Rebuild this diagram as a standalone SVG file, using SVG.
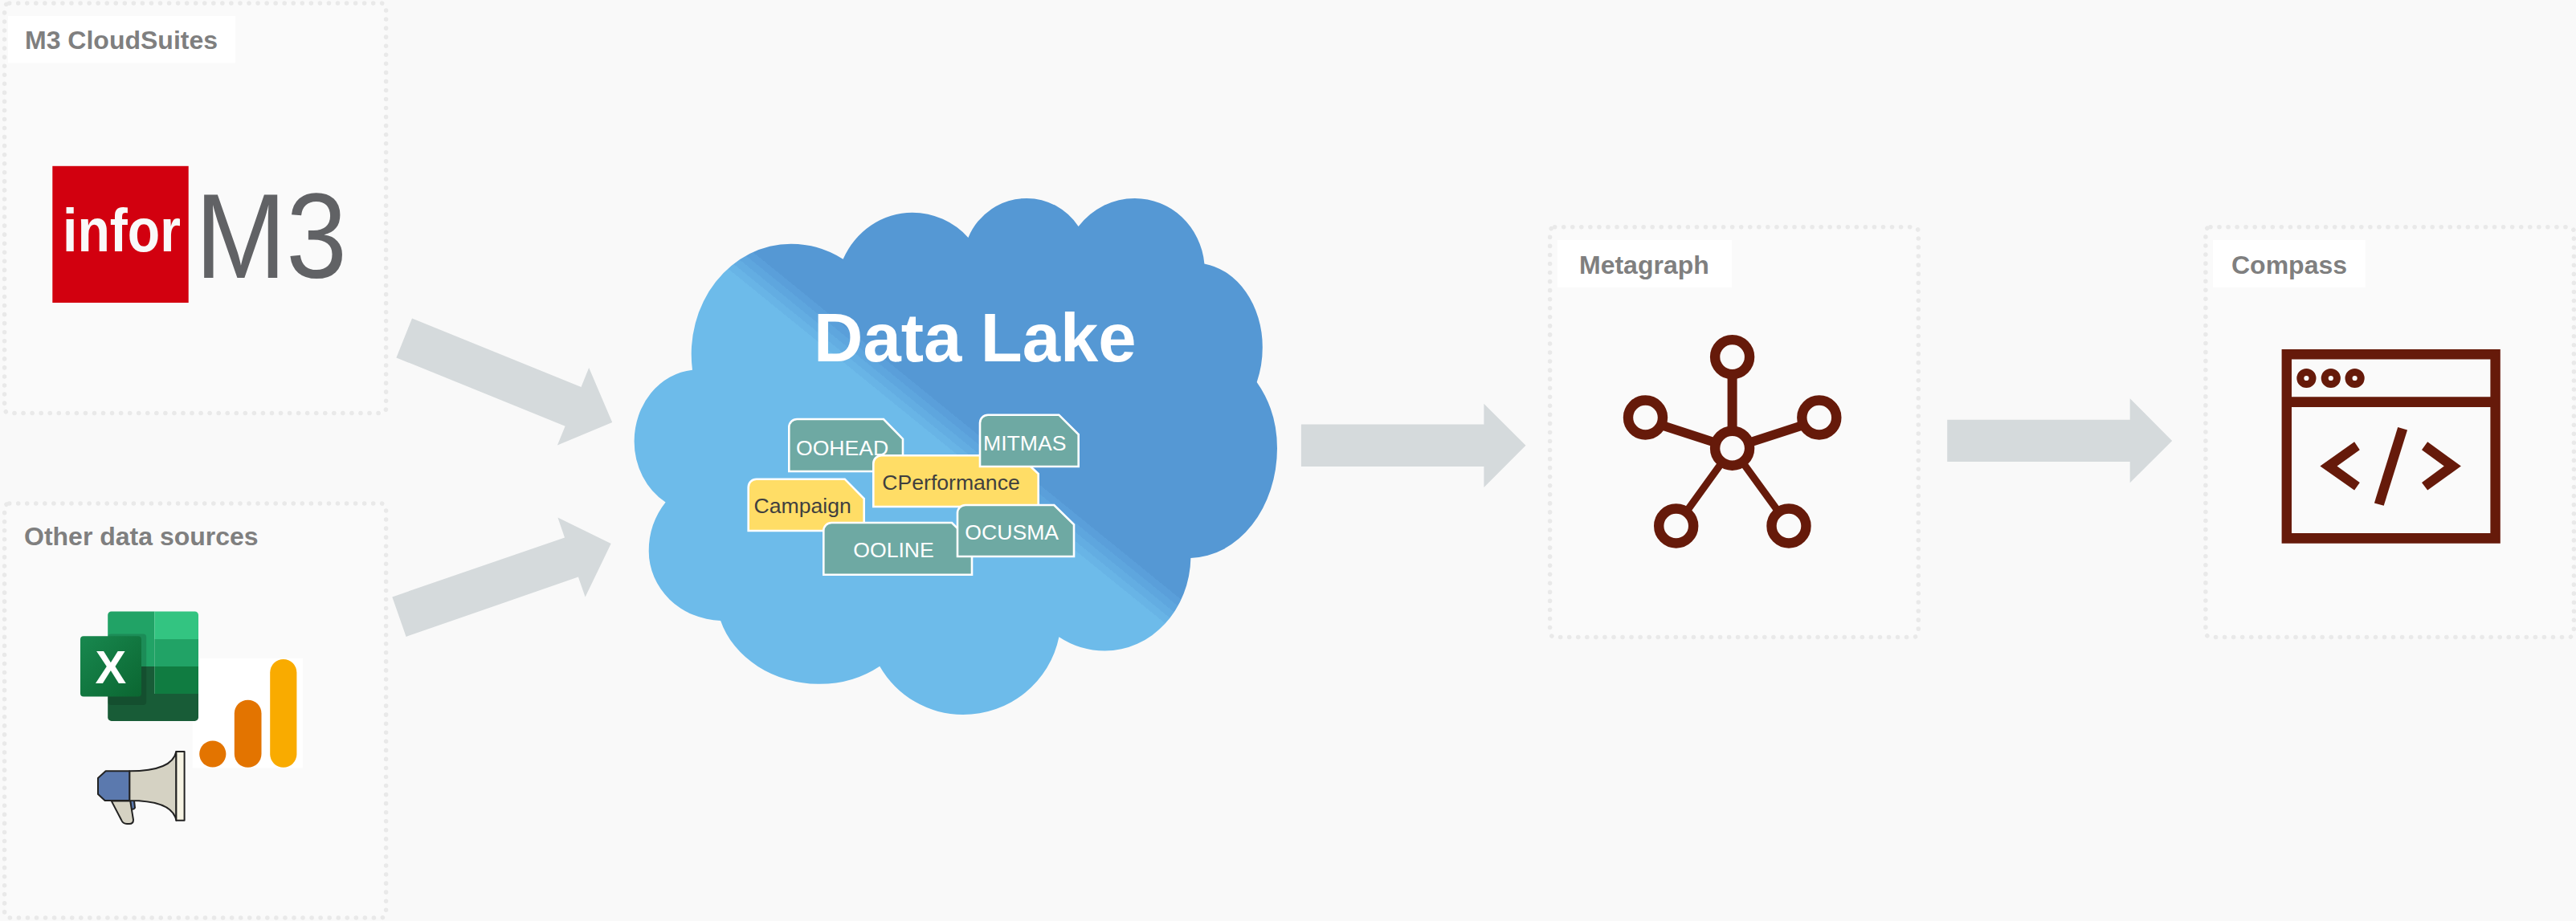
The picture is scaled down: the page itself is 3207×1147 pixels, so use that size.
<svg xmlns="http://www.w3.org/2000/svg" width="3207" height="1147" viewBox="0 0 3207 1147">
<style>
text{font-family:"Liberation Sans",Arial,sans-serif}
.bg{fill:#f9f9f9}
.panel{fill:#fafafa;stroke:#e9e9e9;stroke-width:5.5;stroke-linecap:round;stroke-dasharray:0.1 10.95}
.lab{fill:#fff}
.lt{font-size:32px;font-weight:700;fill:#7f7f7f}
.arrow{fill:#d5dadc}
.tag{stroke:#fff;stroke-width:2.6}
.teal{fill:#6ea9a3}
.yel{fill:#ffdd66}
.tt{font-size:26.6px}
.tw{fill:#fff}
.td{fill:#3f3f3f}
.ring{fill:#fafafa;stroke:#661a0a;stroke-width:12.4}
.edge{stroke:#661a0a;fill:none}
.br{fill:#661a0a}
</style>
<defs>
<linearGradient id="cloudGrad" gradientUnits="userSpaceOnUse" x1="1170" y1="560" x2="1198" y2="525.5">
<stop offset="0" stop-color="#6dbbea"/><stop offset=".2" stop-color="#6dbbea"/>
<stop offset=".2" stop-color="#68b4e6"/><stop offset=".4" stop-color="#68b4e6"/>
<stop offset=".4" stop-color="#63ade2"/><stop offset=".6" stop-color="#63ade2"/>
<stop offset=".6" stop-color="#5ea6de"/><stop offset=".8" stop-color="#5ea6de"/>
<stop offset=".8" stop-color="#5a9fda"/><stop offset="1" stop-color="#5a9fda"/>
<stop offset="1" stop-color="#5598d4"/>
</linearGradient>
<linearGradient id="xlGrad" x1="0" y1="0" x2="1" y2="1">
<stop offset="0" stop-color="#18884f"/><stop offset="1" stop-color="#0b6631"/>
</linearGradient>
</defs>
<rect class="bg" width="3207" height="1147"/>

<g id="connectors">
<polygon class="arrow" points="513,396.4 493.4,445.4 703.6,530.7 693.9,554.6 762.2,526 733.2,458 723.5,482"/>
<polygon class="arrow" points="488.3,743.4 505.6,792.9 719.9,718.6 728.6,743.4 760.7,677 694.4,644.6 703,669.4"/>
<polygon class="arrow" points="1619.9,528.6 1847.4,528.6 1847.4,502.8 1899.5,554.8 1847.4,607 1847.4,581 1619.9,581"/>
<polygon class="arrow" points="2424.2,522.7 2651.7,522.7 2651.7,496.2 2704.2,548.9 2651.7,601.3 2651.7,575 2424.2,575"/>
</g>

<g id="m3-cloudsuites">
<rect class="panel" x="5.6" y="4" width="475" height="510.6" rx="6"/>
<rect class="lab" x="10" y="20" width="283" height="58.6"/>
<text class="lt" x="31" y="60.7">M3 CloudSuites</text>
<rect x="65.3" y="206.8" width="169.4" height="170.2" fill="#d2000f"/>
<text x="78" y="312.5" font-size="76" font-weight="700" fill="#f9f9f9" textLength="147" lengthAdjust="spacingAndGlyphs">infor</text>
<text x="243" y="345.7" font-size="151" fill="#616265" textLength="189" lengthAdjust="spacingAndGlyphs">M3</text>
</g>

<g id="other-data-sources">
<rect class="panel" x="5.6" y="627" width="475" height="516" rx="6"/>
<text class="lt" x="30" y="678.5">Other data sources</text>
<g id="analytics-icon">
<rect x="239.8" y="819.7" width="137.2" height="136.8" fill="#fff"/>
<circle cx="264.8" cy="939" r="16.6" fill="#e37400"/>
<rect x="291.8" y="871.7" width="33.7" height="84.1" rx="16.8" fill="#e37400"/>
<rect x="336.2" y="821" width="33.2" height="134.8" rx="16.6" fill="#f9ab00"/>
</g>
<g id="excel-icon">
<path d="M134.2,796V766a4.5,4.5 0 0 1 4.5-4.5H192.3V796Z" fill="#21a366"/>
<path d="M192.3,761.5H242.5a4.5,4.5 0 0 1 4.5,4.5V796H192.3Z" fill="#33c481"/>
<rect x="134.2" y="796" width="58.1" height="34" fill="#21a366"/>
<rect x="192.3" y="796" width="54.7" height="34" fill="#21a366"/>
<rect x="134.2" y="830" width="58.1" height="34" fill="#185c37"/>
<rect x="192.3" y="830" width="54.7" height="34" fill="#107c41"/>
<path d="M134.2,864H247V893.4a4.5,4.5 0 0 1-4.5,4.5H138.7a4.5,4.5 0 0 1-4.5-4.5Z" fill="#185c37"/>
<rect x="134.2" y="789.4" width="48" height="88.6" rx="4" fill="#000" opacity=".14"/>
<rect x="100" y="792.2" width="76" height="75.3" rx="4" fill="url(#xlGrad)"/>
<text x="137.8" y="851" font-size="58" font-weight="700" fill="#fff" text-anchor="middle">X</text>
</g>
<g id="megaphone-icon" stroke="#222" stroke-width="2" stroke-linejoin="round">
<path d="M162,997l1,10q3,2 5,-1l-1,-9Z" fill="#5b79ae"/>
<path d="M138.8,997.6L151,1021q2,5 7,5h3q5,0 5,-5L162.2,997.6Z" fill="#d5d2c3"/>
<path d="M161.2,960.3C205,960.3 217,948 219.4,936V1021.7C217,1009 205,997 161.2,997Z" fill="#d5d2c3"/>
<rect x="219.4" y="936" width="10.2" height="85.7" fill="#f6f3e3"/>
<path d="M131.6,960.3H161.2V997H130.6L122,989V969Z" fill="#5b79ae"/>
</g>
</g>

<g id="data-lake">
<path fill="url(#cloudGrad)" d="M1049.6,322.8A95,100 0 0 1 1135.8,264.7A96,100 0 0 1 1205.4,295.9A79,80 0 0 1 1278.4,246.9A78,80 0 0 1 1342.6,282A88.6,90 0 0 1 1412.8,246.9A87,90 0 0 1 1499.4,328.4A85,105.3 0 0 1 1571.8,432.5A85,108.5 0 0 1 1564.7,475.9A110,129 0 0 1 1590,558.2A110,136.7 0 0 1 1482.4,694.9A107,118 0 0 1 1375.5,810.6A109.5,118 0 0 1 1318.4,793.3A121.9,120 0 0 1 1198.8,890A119.4,120 0 0 1 1095.2,829.7A124,110 0 0 1 1020.6,851.8A128.8,110 0 0 1 897.1,772.9A92,86.7 0 0 1 807.7,686.2A92,95.6 0 0 1 828.6,625.5A80,88.4 0 0 1 789.6,549.6A80,89.3 0 0 1 862,460.7A124,137.3 0 0 1 984.9,303.7A127,137 0 0 1 1049.6,322.8Z"/>
<text x="1013" y="449.8" font-size="85" font-weight="700" fill="#fff">Data Lake</text>
<g id="tag-oohead">
<path class="tag teal" d="M982.3,587V532a10,10 0 0 1 10-10H1100L1124,546.7V587Z"/>
<text class="tt tw" x="991" y="566.7">OOHEAD</text>
</g>
<g id="tag-campaign">
<path class="tag yel" d="M931.7,661V606.7a10,10 0 0 1 10-10H1051.7L1075.7,621V661Z"/>
<text class="tt td" x="938.5" y="639.3">Campaign</text>
</g>
<g id="tag-cperformance">
<path class="tag yel" d="M1087.3,631V577.3a10,10 0 0 1 10-10H1268.3L1292.7,590V631Z"/>
<text class="tt td" x="1098.3" y="610">CPerformance</text>
</g>
<g id="tag-mitmas">
<path class="tag teal" d="M1220,581V526.7a10,10 0 0 1 10-10H1318.3L1342.7,541V581Z"/>
<text class="tt tw" x="1224" y="560.7">MITMAS</text>
</g>
<g id="tag-ooline">
<path class="tag teal" d="M1025.3,715.7V661a10,10 0 0 1 10-10H1185L1210,675.7V715.7Z"/>
<text class="tt tw" x="1062.3" y="694">OOLINE</text>
</g>
<g id="tag-ocusma">
<path class="tag teal" d="M1192,693V639a10,10 0 0 1 10-10H1312.3L1337,653.3V693Z"/>
<text class="tt tw" x="1201.3" y="672.3">OCUSMA</text>
</g>
</g>

<g id="metagraph">
<rect class="panel" x="1929.6" y="282.7" width="458.7" height="510.7" rx="6"/>
<rect class="lab" x="1938.8" y="299" width="217.2" height="59"/>
<text class="lt" x="1966" y="341">Metagraph</text>
<path class="edge" stroke-width="12" d="M2156.6,558.2V444.6"/>
<path class="edge" stroke-width="11.4" d="M2156.6,558.2L2048.5,523M2156.6,558.2L2264.8,523"/>
<path class="edge" stroke-width="9" d="M2156.6,558.2L2086.7,655M2156.6,558.2L2227,655"/>
<circle class="ring" cx="2156.6" cy="444.6" r="21.5"/>
<circle class="ring" cx="2048.5" cy="520" r="21.5"/>
<circle class="ring" cx="2264.8" cy="520" r="21.5"/>
<circle class="ring" cx="2086.7" cy="655" r="21.5"/>
<circle class="ring" cx="2227" cy="655" r="21.5"/>
<circle class="ring" cx="2156.6" cy="558.2" r="21.5"/>
</g>

<g id="compass">
<rect class="panel" x="2745.9" y="282.7" width="458.5" height="510.7" rx="6"/>
<rect class="lab" x="2755" y="299" width="189.5" height="59"/>
<text class="lt" x="2778" y="341">Compass</text>
<path class="br" fill-rule="evenodd" d="M2840.6,434.9H3112.8V676.7H2840.6ZM2853,447.6V494.2H3100.4V447.6ZM2853,506.9V664H3100.4V506.9Z"/>
<circle cx="2871.4" cy="471" r="7.6" fill="none" stroke="#661a0a" stroke-width="9"/>
<circle cx="2901.8" cy="471" r="7.6" fill="none" stroke="#661a0a" stroke-width="9"/>
<circle cx="2931.6" cy="471" r="7.6" fill="none" stroke="#661a0a" stroke-width="9"/>
<polygon class="br" points="2931.1,550.3 2937.8,560.3 2909.5,580.6 2937.8,600.9 2931.1,610.6 2888.4,580.6"/>
<polygon class="br" points="3022.2,550.3 3063.9,580.6 3022.2,610.6 3015,600.9 3042.8,580.6 3015,560.3"/>
<polygon class="br" points="2985.2,532 2997,535.5 2967.7,629.8 2955.9,626.4"/>
</g>
</svg>
